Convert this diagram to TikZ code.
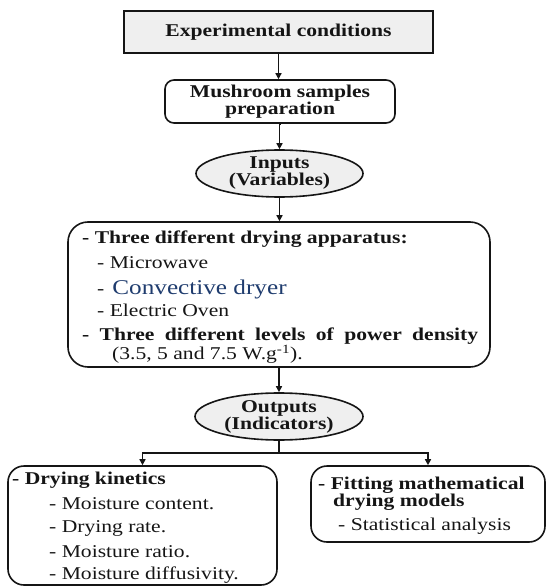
\documentclass[tikz,border=0pt]{standalone}
\usepackage{fontspec}
\setmainfont{Liberation Serif}[FakeStretch=1.2]
\usetikzlibrary{arrows.meta,shapes.geometric}
\definecolor{txt}{HTML}{151515}
\definecolor{conv}{HTML}{1F3C6E}
\definecolor{boxfill}{HTML}{EFEFEF}
\tikzset{
  boxline/.style={draw=txt, line width=1.6pt},
  topbox/.style={boxline, line width=1.9pt, fill=boxfill, rectangle, inner sep=0pt, text=txt,
     font=\fontsize{18}{17}\selectfont\bfseries},
  rbox/.style={boxline, rectangle, rounded corners=9pt, inner sep=0pt, align=center, text=txt,
     font=\fontsize{18}{17}\selectfont\bfseries},
  bigbox/.style={boxline, rectangle, rounded corners=20pt, inner sep=0pt},
  ell/.style={boxline, ellipse, fill=boxfill, inner sep=0pt, align=center, text=txt,
     font=\fontsize{18}{17}\selectfont\bfseries},
  ln/.style={anchor=base west, inner sep=0pt, text=txt, font=\fontsize{18}{20}\selectfont},
  lnb/.style={ln, font=\fontsize{18}{20}\selectfont\bfseries},
  arr/.style={draw=txt, line width=1.8pt, -{Triangle[length=6pt,width=6pt]}},
  conn/.style={draw=txt, line width=1.8pt},
}
\begin{document}
\begin{tikzpicture}[x=1pt,y=-1pt]
\useasboundingbox (0,0) rectangle (546,588);
% top box
\node[topbox, minimum width=309pt, minimum height=42pt] (exp) at (278.5,32) {Experimental conditions};
% mushroom
\node[rbox, minimum width=230pt, minimum height=43pt] (mush) at (280,101.5) {Mushroom samples\\preparation};
% inputs
\node[ell, minimum width=167pt, minimum height=47pt] (inp) at (279.5,173.5) {Inputs\\(Variables)};
% apparatus box
\node[bigbox, minimum width=422pt, minimum height=145pt] (app) at (279,294.5) {};
\node[lnb] (a1) at (82,243) {- Three different drying apparatus:};
\node[ln] (a2) at (97,268) {- Microwave};
\node[ln] (a3) at (97,294) {-\hspace{8pt}{\color{conv}\fontsize{21}{21}\selectfont Convective dryer}};
\node[ln] (a4) at (97,316) {- Electric Oven};
\node[lnb] (a5) at (82,340) {\makebox[396pt][s]{- Three different levels of power density}};
\node[ln] (a6) at (112,359.5) {(3.5, 5 and 7.5 W.g\textsuperscript{-1}).};
% outputs
\node[ell, minimum width=168pt, minimum height=47pt] (outp) at (279,416.5) {Outputs\\(Indicators)};
% left box
\node[bigbox, rounded corners=16pt, minimum width=269pt, minimum height=119pt] (kin) at (142.5,525.5) {};
\node[lnb] (k1) at (12,484) {- Drying kinetics};
\node[ln] (k2) at (49,509) {- Moisture content.};
\node[ln] (k3) at (49,532) {- Drying rate.};
\node[ln] (k4) at (49,557) {- Moisture ratio.};
\node[ln] (k5) at (49,579) {- Moisture diffusivity.};
% right box
\node[bigbox, rounded corners=16pt, minimum width=234pt, minimum height=76pt] (fit) at (428,504) {};
\node[lnb] (f1) at (318,489) {- Fitting mathematical};
\node[lnb] (f2) at (333,506) {drying models};
\node[ln] (f3) at (338,530) {- Statistical analysis};
% connectors
\draw[arr] (exp.south) -- (exp.south |- mush.north);
\draw[arr] (mush.south) -- (mush.south -| inp.north) -- (inp.north);
\draw[arr] (inp.south) -- (inp.south |- app.north);
\draw[arr] (app.south -| outp.north) -- (outp.north);
\coordinate (br) at (279,453);
\draw[conn] (outp.south) -- (br);
\draw[arr] (br) -| (kin.north);
\draw[arr] (br) -| (fit.north);
\end{tikzpicture}
\end{document}
